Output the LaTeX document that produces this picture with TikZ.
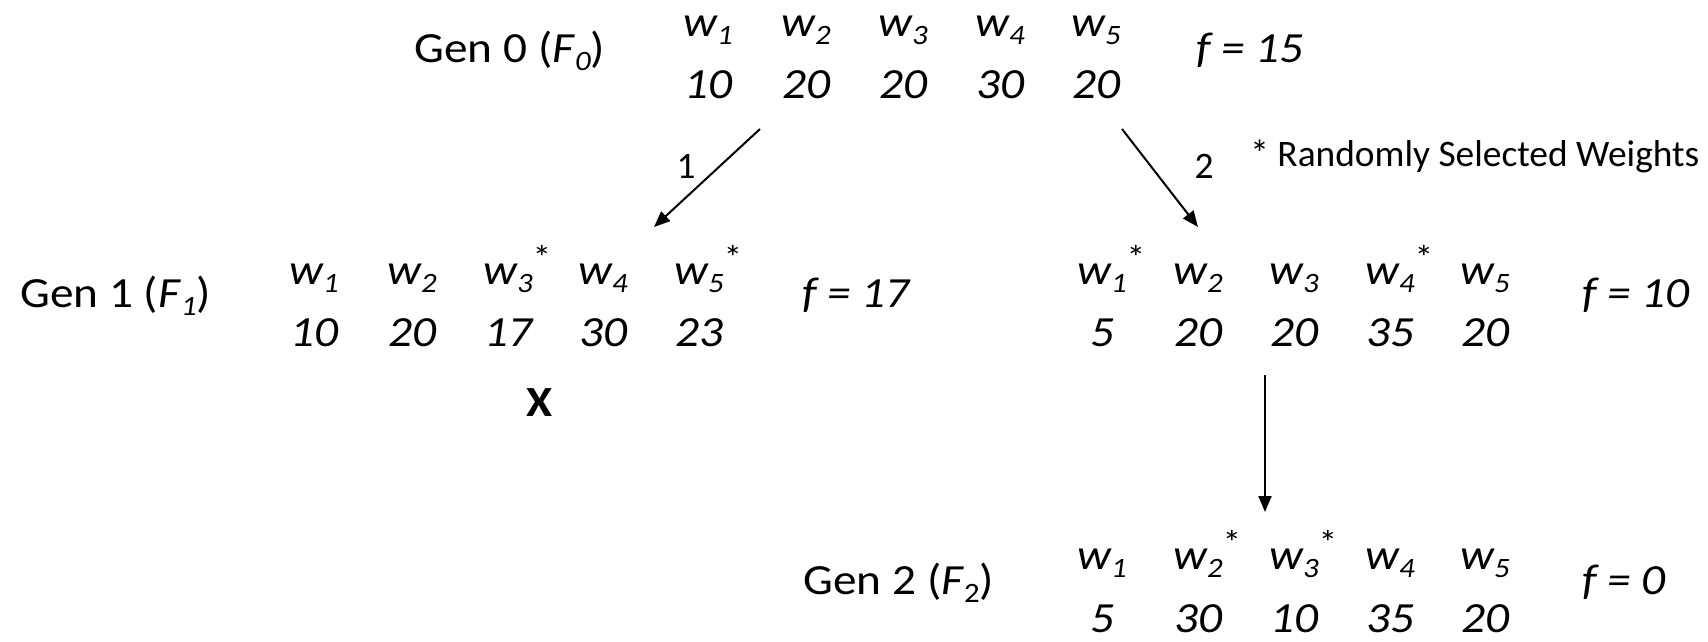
\documentclass[tikz,border=0pt]{standalone}
\usepackage{fontspec}
\setmainfont{Carlito}[FakeStretch=1.1]
\newfontfamily\legfont{Carlito}
\usetikzlibrary{arrows.meta}
\newcommand\lsub[1]{\raisebox{-4pt}{\fontsize{14}{14}\selectfont #1}}
\newcommand\lstar{\rlap{\raisebox{7.5pt}{\fontsize{17}{17}\selectfont\upshape *}}}
\tikzset{
  txt/.style={inner sep=0pt, anchor=base, font=\fontsize{21.5}{24}\selectfont},
  it/.style={txt, font=\fontsize{21.5}{24}\selectfont\itshape},
  lbl/.style={txt, font=\legfont\fontsize{18.7}{21}\selectfont},
  arr/.style={line width=1pt, -{Triangle[length=8pt,width=6.5pt]}}
}
\begin{document}
\begin{tikzpicture}[x=0.5pt,y=-0.5pt]
\useasboundingbox (0,0) rectangle (1708,642);
% Gen 0
\node[txt, anchor=base west] (g0) at (414,63) {Gen 0 (\textit{F}\lsub{\textit{0}})};
\node[it] (r0w1) at (708,37) {w\lsub{1}};
\node[it] (r0w2) at (806,37) {w\lsub{2}};
\node[it] (r0w3) at (903,37) {w\lsub{3}};
\node[it] (r0w4) at (1000,37) {w\lsub{4}};
\node[it] (r0w5) at (1096,37) {w\lsub{5}};
\node[it] (r0n1) at (708,99) {10};
\node[it] (r0n2) at (806,99) {20};
\node[it] (r0n3) at (903,99) {20};
\node[it] (r0n4) at (1000,99) {30};
\node[it] (r0n5) at (1096,99) {20};
\node[it, anchor=base west] (f0) at (1196,63) {f = 15};
% Gen 1 left
\node[txt, anchor=base west] (g1) at (20,307) {Gen 1 (\textit{F}\lsub{\textit{1}})};
\node[it] (lw1) at (314,284) {w\lsub{1}};
\node[it] (lw2) at (412,284) {w\lsub{2}};
\node[it] (lw3) at (508,284) {w\lsub{3}\lstar};
\node[it] (lw4) at (603,284) {w\lsub{4}};
\node[it] (lw5) at (699,284) {w\lsub{5}\lstar};
\node[it] (ln1) at (314,346) {10};
\node[it] (ln2) at (412,346) {20};
\node[it] (ln3) at (508,346) {17};
\node[it] (ln4) at (603,346) {30};
\node[it] (ln5) at (699,346) {23};
\node[it, anchor=base west] (fl) at (802,307) {f = 17};
\node[txt, font=\fontsize{21.5}{24}\selectfont\bfseries] (x) at (540,416) {X};
% Gen 1 right
\node[it] (rw1) at (1102,284) {w\lsub{1}\lstar};
\node[it] (rw2) at (1198,284) {w\lsub{2}};
\node[it] (rw3) at (1294,284) {w\lsub{3}};
\node[it] (rw4) at (1390,284) {w\lsub{4}\lstar};
\node[it] (rw5) at (1485,284) {w\lsub{5}};
\node[it] (rn1) at (1102,346) {5};
\node[it] (rn2) at (1198,346) {20};
\node[it] (rn3) at (1294,346) {20};
\node[it] (rn4) at (1390,346) {35};
\node[it] (rn5) at (1485,346) {20};
\node[it, anchor=base west] (fr) at (1582,307) {f = 10};
% Gen 2
\node[txt, anchor=base west] (g2) at (803,594) {Gen 2 (\textit{F}\lsub{2})};
\node[it] (bw1) at (1102,569) {w\lsub{1}};
\node[it] (bw2) at (1198,569) {w\lsub{2}\lstar};
\node[it] (bw3) at (1294,569) {w\lsub{3}\lstar};
\node[it] (bw4) at (1390,569) {w\lsub{4}};
\node[it] (bw5) at (1485,569) {w\lsub{5}};
\node[it] (bn1) at (1102,632) {5};
\node[it] (bn2) at (1198,632) {30};
\node[it] (bn3) at (1294,632) {10};
\node[it] (bn4) at (1390,632) {35};
\node[it] (bn5) at (1485,632) {20};
\node[it, anchor=base west] (fb) at (1582,594) {f = 0};
% legend
\node[lbl, anchor=base west] (leg) at (1250,167) {* Randomly Selected Weights};
% arrows
\coordinate (a1s) at (760,129);
\coordinate (a1e) at (654,227);
\coordinate (a2s) at (1122,129);
\coordinate (a2e) at (1198,227);
\coordinate (a3s) at (1265,375);
\coordinate (a3e) at (1265,512);
\draw[arr] (a1s) -- (a1e);
\draw[arr] (a2s) -- (a2e);
\draw[arr] (a3s) -- (a3e);
\node[lbl] (l1) at (686,178) {1};
\node[lbl] (l2) at (1204,178) {2};
\end{tikzpicture}
\end{document}
